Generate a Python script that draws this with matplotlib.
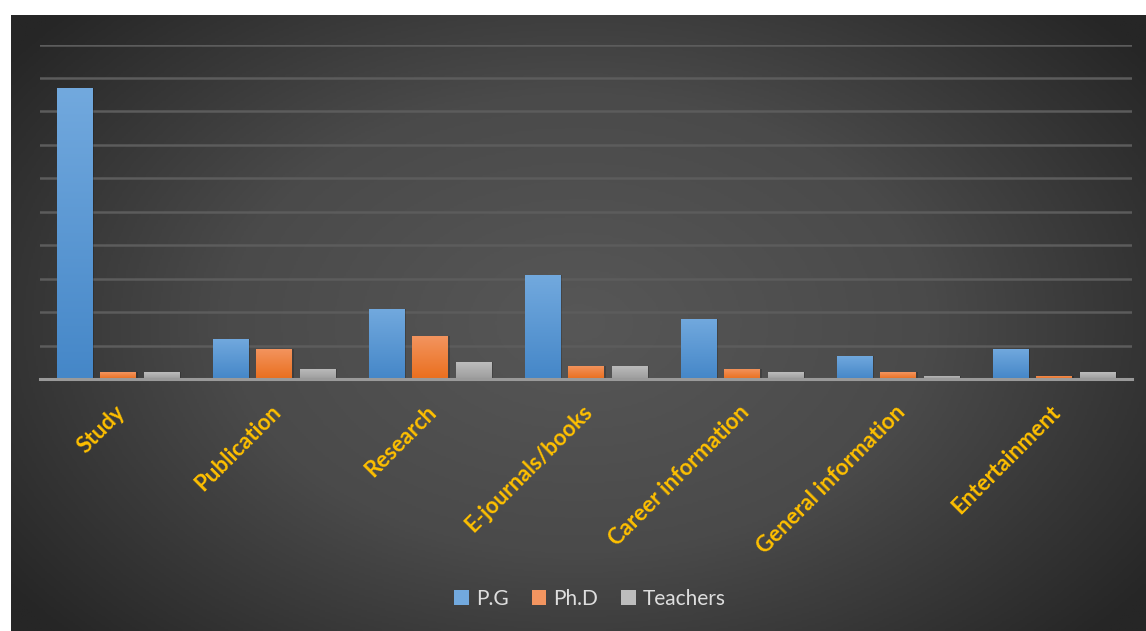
import numpy as np
import matplotlib
matplotlib.use('Agg')
from matplotlib import pyplot as plt
from matplotlib.patches import Rectangle
from matplotlib.colors import LinearSegmentedColormap

categories = ['Study', 'Publication', 'Research', 'E-journals/books',
              'Career information', 'General information', 'Entertainment']
series = ['P.G', 'Ph.D', 'Teachers']
pg = [87, 12, 21, 31, 18, 7, 9]
phd = [2, 9, 13, 4, 3, 2, 1]
teachers = [2, 3, 5, 4, 2, 1, 2]

# (top, bottom) colours of each bar gradient
bar_colors = [('#72a9de', '#4587c8'), ('#f39560', '#ea6f1e'), ('#bdbdbd', '#9d9d9d')]

plt.rcParams['font.family'] = ['Lato', 'DejaVu Sans']

W, H = 1146, 631
fig = plt.figure(figsize=(W / 100, H / 100), dpi=100)
fig.patch.set_facecolor('white')

# dark panel with radial gradient
bg = fig.add_axes([11 / W, 0, 1 - 11 / W, 1 - 15 / H])
bg.set_axis_off()
yy, xx = np.mgrid[0:1:300j, 0:1:600j]
r = np.sqrt(((xx - 0.5) / 0.62) ** 2 + ((yy - 0.5) / 0.75) ** 2)
r = np.clip(r, 0, 1)
bg_cmap = LinearSegmentedColormap.from_list('bg', ['#575757', '#4a4a4a', '#262626'])
bg.imshow(r, cmap=bg_cmap, aspect='auto', extent=[0, 1, 0, 1], vmin=0, vmax=1)

ax = fig.add_axes([40 / W, 1 - 379 / H, (1132 - 40) / W, (379 - 44.5) / H])
ax.patch.set_alpha(0)
ax.set_xlim(-0.5, len(categories) - 0.5)
ax.set_ylim(0, 100)
ax.set_yticks(np.arange(10, 101, 10))
ax.yaxis.grid(True, color='#5c5c5c', linewidth=1.8)
ax.set_axisbelow(True)
ax.tick_params(axis='y', left=False, labelleft=False)
ax.tick_params(axis='x', bottom=False, pad=4)
for s in ['top', 'right', 'left']:
    ax.spines[s].set_visible(False)
ax.spines['bottom'].set_color('#9a9a9a')
ax.spines['bottom'].set_linewidth(2.2)
ax.spines['bottom'].set_zorder(5)

x = np.arange(len(categories))
width = 0.23
step = 0.279
grad = np.linspace(0, 1, 100).reshape(-1, 1)
for i, (name, vals) in enumerate(zip(series, [pg, phd, teachers])):
    top, bot = bar_colors[i]
    cmap = LinearSegmentedColormap.from_list(name, [bot, top])
    bars = ax.bar(x + (i - 1) * step, vals, width, color=top, label=name, zorder=2)
    for b in bars:
        # soft shadow
        sh = Rectangle((b.get_x() + 0.012, 0), b.get_width(), b.get_height(),
                       facecolor='black', alpha=0.18, zorder=1.5, linewidth=0)
        ax.add_patch(sh)
        im = ax.imshow(grad, cmap=cmap, aspect='auto', origin='lower',
                       extent=[b.get_x(), b.get_x() + b.get_width(), 0, b.get_height()],
                       zorder=3)
        im.set_clip_path(b)

ax.set_xticks(x)
ax.set_xticklabels(categories, rotation=45, ha='right', va='top', rotation_mode='anchor',
                   color='#ffc000', fontweight='bold', fontsize=16)
for lbl in ax.get_xticklabels():
    lbl.set_transform(lbl.get_transform() + matplotlib.transforms.ScaledTranslation(-0.04, -0.12, fig.dpi_scale_trans))

leg = ax.legend(loc='center', bbox_to_anchor=(590 / W, 1 - 599 / H), bbox_transform=fig.transFigure,
                ncol=3, frameon=False, fontsize=15, labelcolor='#dedede',
                handlelength=0.7, handleheight=0.7, handletextpad=0.35, columnspacing=1.1)

fig.savefig('out.png', dpi=100, facecolor=fig.get_facecolor())
